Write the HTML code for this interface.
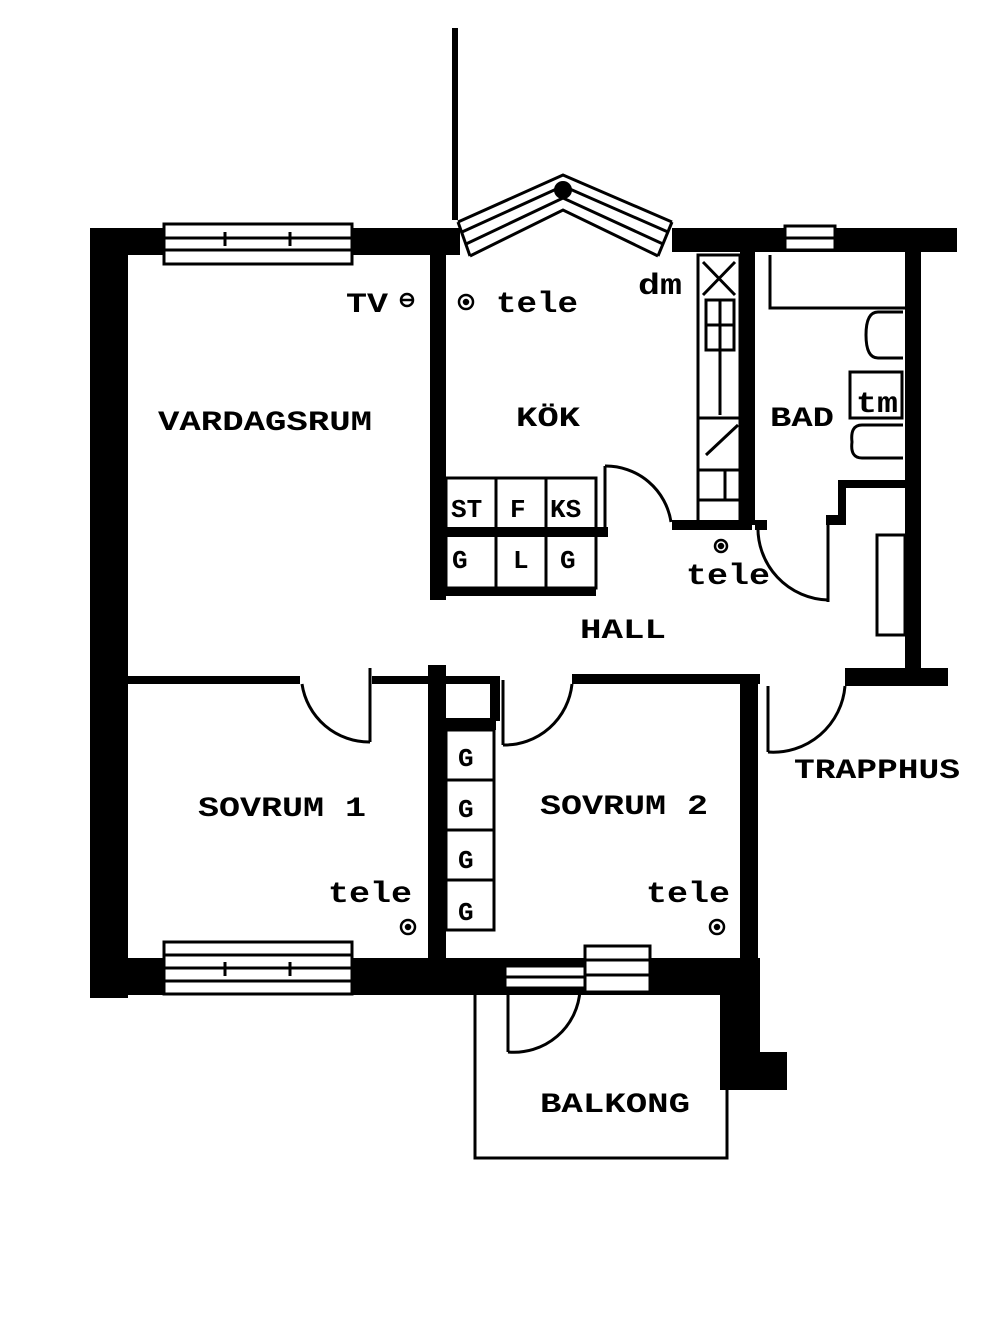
<!DOCTYPE html>
<html><head><meta charset="utf-8"><style>html,body{margin:0;padding:0;background:#fff}svg{display:block}</style></head><body>
<svg width="1000" height="1333" viewBox="0 0 1000 1333" xmlns="http://www.w3.org/2000/svg" font-family="Liberation Mono, monospace" font-weight="bold">
<rect width="1000" height="1333" fill="#fff"/>
<g fill="#000">
<!-- outer walls -->
<rect x="90" y="228" width="38" height="770"/>
<rect x="90" y="228" width="370" height="27"/>
<rect x="672" y="228" width="285" height="24"/>
<rect x="430" y="255" width="16" height="345"/>
<rect x="905" y="250" width="16" height="420"/>
<rect x="845" y="668" width="103" height="18"/>
<rect x="740" y="252" width="15" height="273"/>
<rect x="128" y="676" width="172" height="8"/>
<rect x="372" y="676" width="56" height="8"/>
<rect x="428" y="665" width="18" height="295"/>
<rect x="446" y="676" width="54" height="8"/>
<rect x="490" y="676" width="10" height="45"/>
<rect x="446" y="718" width="50" height="12"/>
<rect x="572" y="674" width="188" height="10"/>
<rect x="740" y="680" width="18" height="285"/>
<rect x="90" y="958" width="670" height="37"/>
<rect x="720" y="958" width="40" height="132"/>
<rect x="720" y="1052" width="67" height="38"/>
<rect x="446" y="588" width="150" height="8"/>
<rect x="446" y="527" width="162" height="10"/>
<rect x="672" y="520" width="80" height="10"/>
<rect x="755" y="520" width="12" height="10"/>
<rect x="826" y="515" width="14" height="10"/>
<rect x="452" y="28" width="6" height="192"/>
<rect x="838" y="480" width="67" height="8"/>
<rect x="838" y="480" width="8" height="45"/>
</g>
<!-- windows -->
<g fill="#fff" stroke="#000" stroke-width="3">
<rect x="164" y="224" width="188" height="40"/>
<rect x="164" y="942" width="188" height="52"/>
<rect x="505" y="966" width="80" height="22"/>
<rect x="585" y="946" width="65" height="46"/>
<rect x="785" y="226" width="50" height="24"/>
</g>
<g stroke="#000" stroke-width="3">
<line x1="164" y1="238" x2="352" y2="238"/><line x1="164" y1="250" x2="352" y2="250"/>
<line x1="164" y1="955" x2="352" y2="955"/><line x1="164" y1="968" x2="352" y2="968"/><line x1="164" y1="981" x2="352" y2="981"/>
<line x1="585" y1="960" x2="650" y2="960"/><line x1="585" y1="975" x2="650" y2="975"/>
<line x1="505" y1="977" x2="585" y2="977"/>
<line x1="785" y1="238" x2="835" y2="238"/>
<line x1="225" y1="232" x2="225" y2="246"/><line x1="290" y1="232" x2="290" y2="246"/>
<line x1="225" y1="962" x2="225" y2="976"/><line x1="290" y1="962" x2="290" y2="976"/>
</g>
<!-- bay window -->
<g fill="none" stroke="#000" stroke-width="3">
<polyline points="458,222 563,175 672,222"/>
<polyline points="462,232 563,186 668,232"/>
<polyline points="466,244 563,198 663,244"/>
<polyline points="470,256 563,210 658,256"/>
<line x1="458" y1="222" x2="470" y2="256"/><line x1="672" y1="222" x2="658" y2="256"/>
</g>
<circle cx="563" cy="190" r="9" fill="#000"/>
<!-- kitchen column -->
<g fill="none" stroke="#000" stroke-width="3">
<rect x="698" y="255" width="42" height="270"/>
<line x1="703" y1="262" x2="735" y2="295"/><line x1="735" y1="262" x2="703" y2="295"/>
<rect x="706" y="300" width="28" height="50"/><line x1="720" y1="300" x2="720" y2="350"/><line x1="706" y1="325" x2="734" y2="325"/>
<line x1="720" y1="350" x2="720" y2="415"/>
<line x1="698" y1="418" x2="740" y2="418"/><line x1="706" y1="455" x2="738" y2="425"/>
<line x1="698" y1="470" x2="740" y2="470"/><line x1="698" y1="500" x2="740" y2="500"/>
<line x1="725" y1="470" x2="725" y2="500"/>
<!-- counter -->
<rect x="446" y="478" width="150" height="110"/>
<line x1="496" y1="478" x2="496" y2="588"/><line x1="546" y1="478" x2="546" y2="588"/>
<line x1="596" y1="478" x2="596" y2="530"/>
<!-- G column -->
<rect x="446" y="730" width="48" height="200"/>
<line x1="446" y1="780" x2="494" y2="780"/><line x1="446" y1="830" x2="494" y2="830"/><line x1="446" y1="880" x2="494" y2="880"/>
<!-- bad -->
<polyline points="770,255 770,308 905,308"/>
<path d="M903 312 H878 Q866 312 866 335 Q866 358 878 358 H903"/>
<rect x="850" y="372" width="52" height="46"/>
<path d="M903 425 H862 Q850 425 852 442 Q850 458 862 458 H903"/>
<rect x="877" y="535" width="28" height="100"/>
<!-- doors -->
<line x1="605" y1="466" x2="605" y2="530"/><path d="M605 466 A66 66 0 0 1 671 522"/>
<line x1="828" y1="522" x2="828" y2="602"/><path d="M758 525 A72 72 0 0 0 828 600"/>
<line x1="370" y1="668" x2="370" y2="742"/><path d="M302 684 A68 68 0 0 0 370 742"/>
<line x1="503" y1="680" x2="503" y2="745"/><path d="M572 684 A68 68 0 0 1 503 745"/>
<line x1="768" y1="686" x2="768" y2="752"/><path d="M845 686 A72 72 0 0 1 768 752"/>
<line x1="508" y1="990" x2="508" y2="1052"/><path d="M580 990 A66 66 0 0 1 508 1052"/>
<!-- balcony -->
<polyline points="475,992 475,1158 727,1158 727,992"/>
</g>
<g fill="none" stroke="#000" stroke-width="2.5">
<circle cx="407" cy="300" r="6"/><line x1="401" y1="300" x2="413" y2="300"/>
<circle cx="466" cy="302" r="7"/><circle cx="466" cy="302" r="2" fill="#000"/>
<circle cx="721" cy="546" r="6"/><circle cx="721" cy="546" r="2" fill="#000"/>
<circle cx="408" cy="927" r="7"/><circle cx="408" cy="927" r="2" fill="#000"/>
<circle cx="717" cy="927" r="7"/><circle cx="717" cy="927" r="2" fill="#000"/>
</g>
<g fill="#000" font-size="28">
<text x="158" y="430" textLength="214" lengthAdjust="spacingAndGlyphs">VARDAGSRUM</text>
<text x="516" y="426" textLength="64" lengthAdjust="spacingAndGlyphs">KÖK</text>
<text x="770" y="426" textLength="64" lengthAdjust="spacingAndGlyphs">BAD</text>
<text x="580" y="638" textLength="86" lengthAdjust="spacingAndGlyphs">HALL</text>
<text x="198" y="816" textLength="168" lengthAdjust="spacingAndGlyphs">SOVRUM 1</text>
<text x="540" y="814" textLength="168" lengthAdjust="spacingAndGlyphs">SOVRUM 2</text>
<text x="794" y="778" textLength="166" lengthAdjust="spacingAndGlyphs">TRAPPHUS</text>
<text x="540" y="1112" textLength="150" lengthAdjust="spacingAndGlyphs">BALKONG</text>
<text x="346" y="312" textLength="42" lengthAdjust="spacingAndGlyphs">TV</text>
</g>
<g fill="#000" font-size="30">
<text x="496" y="312" textLength="82" lengthAdjust="spacingAndGlyphs">tele</text>
<text x="686" y="584" textLength="84" lengthAdjust="spacingAndGlyphs">tele</text>
<text x="328" y="902" textLength="84" lengthAdjust="spacingAndGlyphs">tele</text>
<text x="646" y="902" textLength="84" lengthAdjust="spacingAndGlyphs">tele</text>
<text x="638" y="294" textLength="44" lengthAdjust="spacingAndGlyphs">dm</text>
<text x="856" y="412" textLength="42" lengthAdjust="spacingAndGlyphs">tm</text>
</g>
<g fill="#000" font-size="26">
<text x="451" y="517">ST</text><text x="510" y="517">F</text><text x="550" y="517">KS</text>
<text x="452" y="568">G</text><text x="513" y="568">L</text><text x="560" y="568">G</text>
<text x="458" y="766">G</text><text x="458" y="817">G</text><text x="458" y="868">G</text><text x="458" y="920">G</text>
</g>
</svg>
</body></html>
